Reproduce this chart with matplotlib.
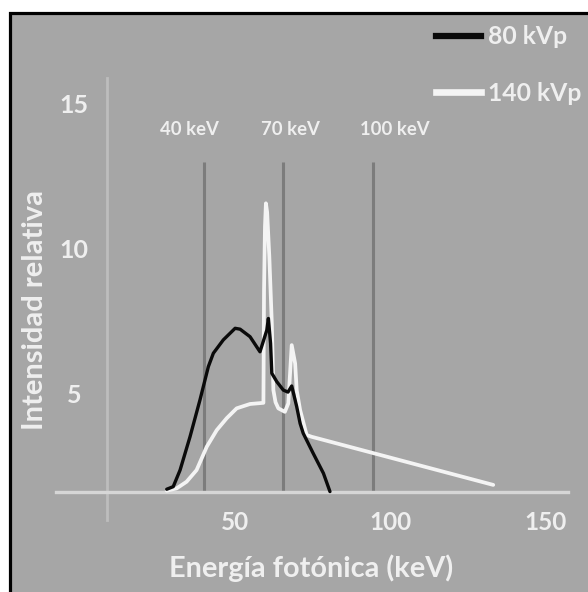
import matplotlib
matplotlib.use("Agg")
import matplotlib.pyplot as plt
from matplotlib.patches import Rectangle
from matplotlib.lines import Line2D

# ---- data ----
x_80 = [28.2, 30.3, 32.5, 35.7, 38.9, 41.6, 43.2, 46.4, 50.2, 51.8, 55.0, 58.2,
        60.4, 60.9, 61.6, 62.0, 63.6, 65.7, 67.2, 68.4, 69.1, 70.0, 71.1, 72.1,
        75.3, 78.6, 80.7]
y_80 = [1.75, 1.84, 2.41, 3.56, 4.83, 5.98, 6.44, 6.90, 7.30, 7.27, 7.01, 6.49,
        7.24, 7.64, 6.78, 5.75, 5.46, 5.17, 5.10, 5.31, 5.00, 4.60, 4.02, 3.68,
        2.99, 2.30, 1.67]

x_140 = [28.2, 31.4, 34.6, 37.8, 41.1, 44.3, 47.5, 50.7, 55.0, 59.3, 59.5, 59.8,
         60.1, 60.5, 61.2, 62.0, 62.5, 63.2, 64.1, 66.2, 67.3, 68.4, 69.5, 70.0,
         71.1, 73.2, 74.8, 133.2]
y_140 = [1.70, 1.78, 2.01, 2.41, 3.22, 3.79, 4.20, 4.54, 4.69, 4.73, 8.62, 10.8,
         11.61, 11.3, 9.77, 7.47, 5.17, 4.75, 4.54, 4.42, 4.71, 6.72, 6.09, 5.17,
         4.48, 3.62, 3.56, 1.90]

series_labels = ["80 kVp", "140 kVp"]

energy_lines = [40.3, 65.7, 94.6]
energy_labels = ["40 keV", "70 keV", "100 keV"]
energy_label_x = [35.5, 68.1, 101.6]

x_ticks = [50, 100, 150]
x_tick_labels = ["50", "100", "150"]
y_ticks = [5, 10, 15]
y_tick_labels = ["5", "10", "15"]

x_title = "Energía fotónica (keV)"
y_title = "Intensidad relativa"

# ---- style ----
BG = "#a6a6a6"
TXT = "#efefef"
FONT = "Lato"
W = "bold"

fig = plt.figure(figsize=(5.88, 5.92), dpi=100)
fig.patch.set_facecolor("white")
fig.patches.append(Rectangle((9.5 / 588, -0.05), 1.2, 579 / 592 + 0.05,
                             transform=fig.transFigure, facecolor=BG,
                             edgecolor="black", linewidth=2.3, zorder=-5))

ax = fig.add_axes([0, 0, 1, 1])
ax.set_facecolor("none")
ax.axis("off")
ax.set_zorder(1)
ax.set_xlim(-25.40, 163.67)
ax.set_ylim(-1.793, 18.621)

base_y = 1.655
axis_x = 8.9

# energy marker lines
ax.vlines(energy_lines, base_y, 13.04, colors="#7c7c7c", linewidth=2.2, zorder=1)
for xl, lab in zip(energy_label_x, energy_labels):
    ax.text(xl, 14.15, lab, ha="center", va="center", color=TXT,
            fontsize=13.3, family=FONT, weight=W)

# axes lines
ax.plot([axis_x, axis_x], [0.69, 15.93], color="#bdbdbd", linewidth=2.0, zorder=2)
ax.plot([-7.4, 157.2], [base_y, base_y], color="#d6d6d6", linewidth=2.4, zorder=2)

# tick labels
for xv, lab in zip(x_ticks, x_tick_labels):
    ax.text(xv, 0.62, lab, ha="center", va="center", color=TXT,
            fontsize=17.5, family=FONT, weight=W)
for yv, lab in zip(y_ticks, y_tick_labels):
    ax.text(-1.6, yv, lab, ha="center", va="center", color=TXT,
            fontsize=18, family=FONT, weight=W)

# spectra
ax.plot(x_140, y_140, color="#f4f4f4", linewidth=2.7, zorder=3,
        solid_joinstyle="round", solid_capstyle="round")
ax.plot(x_80, y_80, color="#0a0a0a", linewidth=2.4, zorder=4,
        solid_joinstyle="round", solid_capstyle="round")

# titles
ax.text(74.6, -1.276, x_title, ha="center", va="baseline", color=TXT,
        fontsize=20.8, family=FONT, weight=W)
ax.text(-14.1, 7.93, y_title, ha="center", va="center", color=TXT,
        fontsize=21, family=FONT, weight=W, rotation=90)

# legend
handles = [Line2D([], [], color="#0a0a0a", linewidth=4.5),
           Line2D([], [], color="#f4f4f4", linewidth=4.8)]
leg = ax.legend(handles, series_labels, loc="upper left",
                bbox_to_anchor=(436 / 588, 1 - 25.5 / 592), frameon=False,
                prop={"family": FONT, "size": 17.8, "weight": W},
                handlelength=1.8, handletextpad=0.3, labelspacing=1.35,
                borderaxespad=0, borderpad=0)
for t in leg.get_texts():
    t.set_color(TXT)

fig.savefig("out.png", dpi=100, facecolor="white")
